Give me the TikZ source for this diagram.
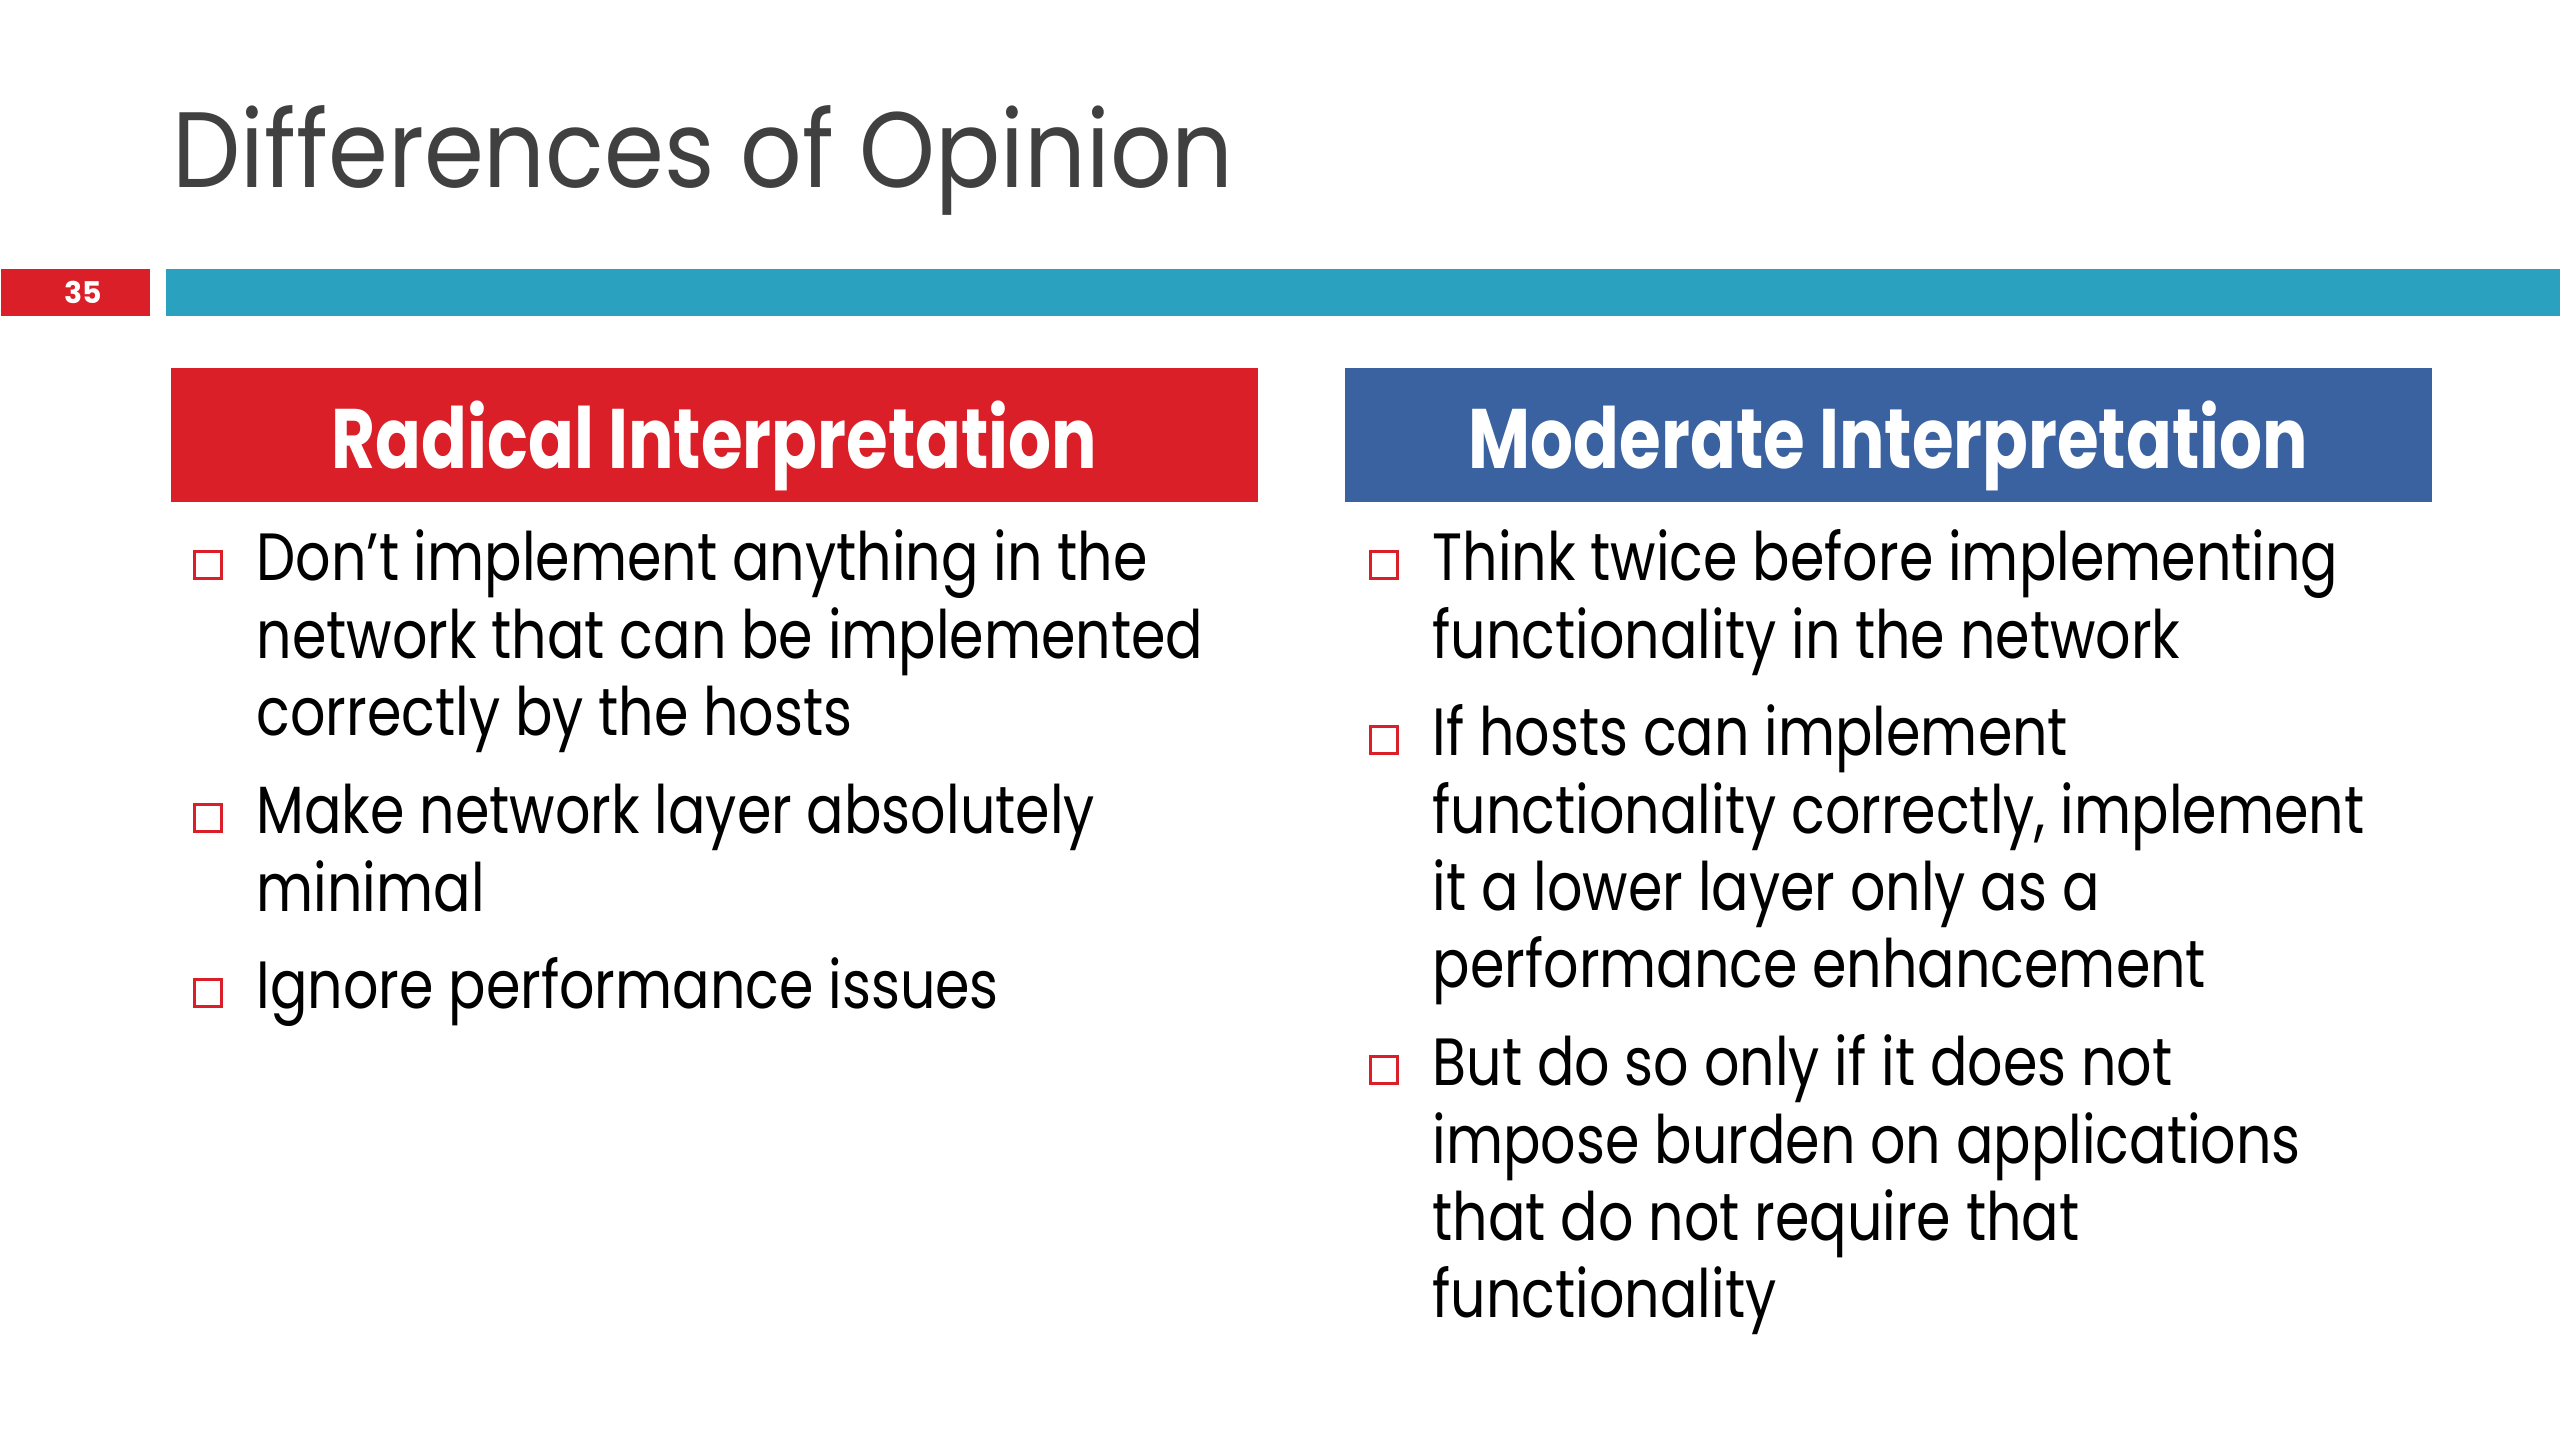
\documentclass[tikz,border=0pt]{standalone}
\usepackage{fontspec}
\setmainfont{Poppins}
\newfontfamily\titlefont[FakeStretch=0.9]{Poppins}
\newfontfamily\headfont[FakeStretch=0.8]{Poppins}
\newfontfamily\bodyfont[FakeStretch=0.83]{Poppins}
\usetikzlibrary{positioning}

\definecolor{slidered}{HTML}{DA1F28}
\definecolor{slideteal}{HTML}{2BA1C0}
\definecolor{slideblue}{HTML}{3A62A0}
\definecolor{titlegray}{HTML}{404040}

\begin{document}
\begin{tikzpicture}[x=0.01cm,y=-0.01cm,
    bar/.style={anchor=north west,inner sep=0,minimum height=0.47cm},
    head/.style={anchor=north west,inner sep=0,minimum width=10.87cm,minimum height=1.34cm,
        text height=0.8cm,text depth=0.12cm,
        text=white,font=\headfont\fontsize{24}{28}\selectfont\bfseries},
    item/.style={anchor=north west,inner sep=0,align=left,
        font=\bodyfont\fontsize{19}{22}\selectfont},
    box/.style={draw=slidered,line width=0.03cm,minimum size=0.27cm,inner sep=0}]
    \useasboundingbox (0,0) rectangle (2560,1440);

    \node[anchor=base west,inner sep=0,text=titlegray,font=\titlefont\fontsize{30.5}{34}\selectfont]
        (title) at (172,188) {Differences of Opinion};

    % slide number and rule
    \node[bar,fill=slidered,minimum width=1.49cm,text=white,font=\fontsize{8.5}{9}\selectfont\bfseries]
        (num) at (0,268) {\hspace{0.16cm}35};
    \node[bar,fill=slideteal,minimum width=23.95cm] (rule) at (165,268) {};

    % column headers
    \node[head,fill=slidered] (radical) at (170,367) {Radical Interpretation};
    \node[head,fill=slideblue] (moderate) at (1344,367) {Moderate Interpretation};

    % left column (top = baseline - 54)
    \node[item] (r1) at (256,526) {\strut Don’t implement anything in the\\network that can be implemented\\correctly by the hosts};
    \node[item] (r2) at (256,779) {\strut Make network layer absolutely\\minimal};
    \node[item] (r3) at (256,954) {\strut Ignore performance issues};

    % right column
    \node[item] (m1) at (1432,526) {\strut Think twice before implementing\\functionality in the network};
    \node[item] (m2) at (1432,701) {\strut If hosts can implement\\functionality correctly, implement\\it a lower layer only as a\\performance enhancement};
    \node[item] (m3) at (1432,1031) {\strut But do so only if it does not\\impose burden on applications\\that do not require that\\functionality};

    % bullets
    \node[box,left=0.33cm of r1.north west,yshift=-0.39cm] (r1b) {};
    \node[box,left=0.33cm of r2.north west,yshift=-0.39cm] (r2b) {};
    \node[box,left=0.33cm of r3.north west,yshift=-0.39cm] (r3b) {};
    \node[box,left=0.33cm of m1.north west,yshift=-0.39cm] (m1b) {};
    \node[box,left=0.33cm of m2.north west,yshift=-0.39cm] (m2b) {};
    \node[box,left=0.33cm of m3.north west,yshift=-0.39cm] (m3b) {};
\end{tikzpicture}
\end{document}
